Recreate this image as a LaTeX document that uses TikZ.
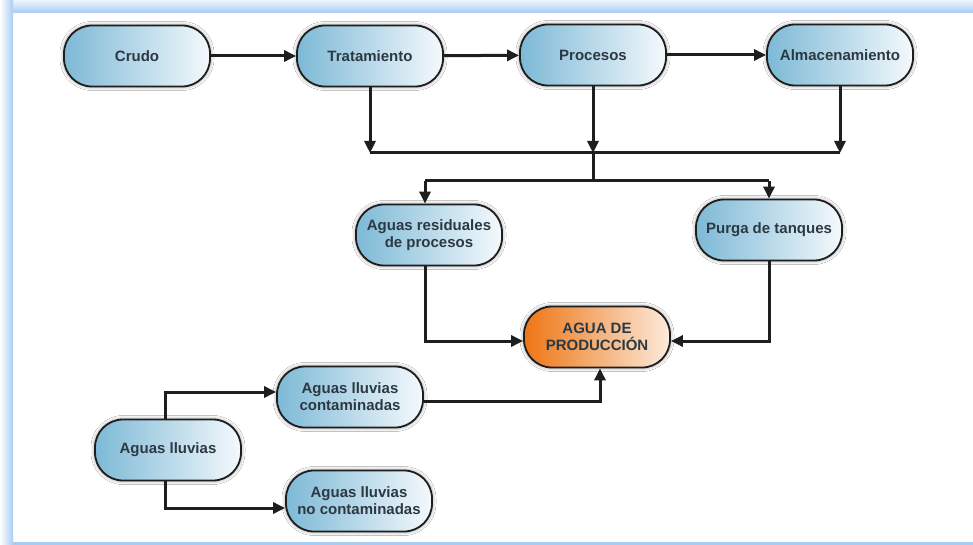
\documentclass[tikz,border=0pt]{standalone}
\usepackage{fontspec}
\setmainfont{Liberation Sans}
\usetikzlibrary{arrows.meta,shadows.blur,calc}
\definecolor{framebl}{HTML}{A9CCF3}
\definecolor{boxbl}{HTML}{7DB9D6}
\definecolor{boxend}{HTML}{F4F9FC}
\definecolor{orng}{HTML}{EE7515}
\definecolor{orngend}{HTML}{FCEBDC}
\definecolor{txt}{HTML}{2C3943}
\definecolor{ln}{HTML}{1E1E1E}
\tikzset{
  pill/.style={draw=ln, line width=1.8pt, rounded corners=28pt,
    minimum width=146pt, minimum height=61pt, inner sep=2pt,
    left color=boxbl, right color=boxend, align=center,
    text=txt, font=\fontsize{15}{17}\selectfont\bfseries,
    blur shadow={shadow xshift=0pt, shadow yshift=0pt, shadow blur radius=4pt, shadow opacity=50}},
  opill/.style={pill, left color=orng, right color=orngend},
  conn/.style={draw=ln, line width=3pt, -{Triangle[length=12pt,width=11pt]}},
  bus/.style={draw=ln, line width=3pt}
}
\begin{document}
\begin{tikzpicture}[x=1pt,y=-1pt]
\useasboundingbox (0,0) rectangle (973,545);
\fill[white] (0,0) rectangle (973,545);
% frame
\shade[top color=white!80!framebl, bottom color=framebl] (0,0) rectangle (973,13);
\shade[left color=white, right color=framebl] (0,0) rectangle (13,545);
\fill[framebl] (13,542) rectangle (973,545);

% nodes
\node[pill] (crudo) at (137,56) {Crudo};
\node[pill] (trat) at (370,56) {Tratamiento};
\node[pill] (proc) at (593,55) {Procesos};
\node[pill] (alm) at (840,55) {Almacenamiento};
\node[pill] (res) at (429,235) {Aguas residuales\\de procesos};
\node[pill] (purga) at (769,230) {Purga de tanques};
\node[opill] (agua) at (597,337) {AGUA DE\\PRODUCCIÓN};
\node[pill] (cont) at (350,397) {Aguas lluvias\\contaminadas};
\node[pill] (lluv) at (168,450) {Aguas lluvias};
\node[pill] (nocont) at (359,501) {Aguas lluvias\\no contaminadas};

% bus coordinates
\coordinate (busL) at (trat.south |- 0,153);
\coordinate (busM) at (proc.south |- 0,153);
\coordinate (busR) at (alm.south |- 0,153);
\coordinate (splitY) at (proc.south |- 0,181);
\coordinate (splitL) at ([xshift=-4pt]res.north |- 0,181);
\coordinate (splitR) at (purga.north |- 0,181);

% top row
\draw[conn] (crudo) -- (trat);
\draw[conn] (trat) -- (proc);
\draw[conn] (proc) -- (alm);

% collectors
\draw[conn] (trat.south) -- (busL);
\draw[conn] (proc.south) -- (busM);
\draw[conn] (alm.south) -- (busR);
\draw[bus] (busL) -- (busR);
\draw[bus] (busM) -- (splitY);
\draw[bus] (splitL) -- (splitR);
\draw[conn] (splitL) -- ([xshift=-4pt]res.north);
\draw[conn] (splitR) -- (purga.north);

% into agua
\draw[conn] ([xshift=-4pt]res.south) |- ([yshift=-4pt]agua.west);
\draw[conn] (purga.south) |- ([yshift=-4pt]agua.east);
\draw[conn] ([yshift=-4pt]cont.east) -| ([xshift=3pt]agua.south);

% rain
\draw[conn] ([xshift=-3pt]lluv.north) |- ([yshift=5pt]cont.west);
\draw[conn] ([xshift=-3pt]lluv.south) |- ([yshift=-7pt]nocont.west);
\end{tikzpicture}
\end{document}
